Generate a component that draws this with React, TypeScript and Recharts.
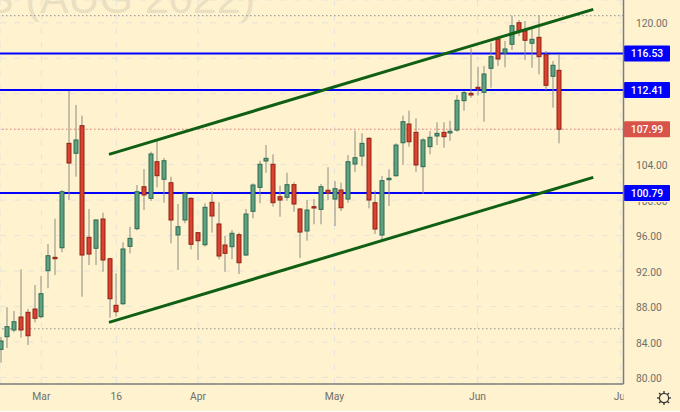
import React from 'react';
import { ComposedChart, Bar, XAxis, YAxis, CartesianGrid, ReferenceLine } from 'recharts';

// daily candles, index 0 is the partly hidden one at the left edge
const opens = [
  83.18, 84.6, 85.36, 86.82, 87.35, 87.72, 86.86, 92.04, 93.55, 94.63, 106.4, 105.28, 108.39, 95.81, 94.57, 97.87, 93.39,
  88.14, 88.32, 94.79, 96.78, 101.51, 100.2, 104.33, 102.35, 101.96, 96.07, 97.76, 100.2, 96.33, 94.97, 99.75, 97.31, 94.94,
  94.75, 96.1, 93.81, 98.74, 101.44, 104.41, 104.04, 100.38, 100.32, 101.74, 99.0, 96.52, 99.26, 98.96, 101.11, 100.12,
  101.14, 100.12, 104.07, 104.97, 106.97, 99.71, 96.07, 102.3, 102.75, 106.47, 108.58, 107.64, 103.77, 106.02, 107.23,
  107.64, 107.57, 107.9, 111.21, 112.04, 112.72, 112.15, 114.86, 118.16, 116.58, 117.57, 120.0, 119.07, 117.68, 118.35,
  116.39, 113.96, 114.63,
];
const highs = [
  84.57, 87.92, 87.5, 92.2, 87.72, 90.43, 91.44, 95.05, 97.9, 101.14, 112.3, 110.72, 109.52, 99.0, 97.84, 98.58, 93.5,
  91.75, 95.24, 97.0, 101.7, 103.51, 105.46, 106.66, 104.75, 102.64, 99.56, 100.95, 100.3, 96.4, 99.64, 101.03, 99.75, 95.95,
  96.63, 96.33, 99.0, 101.89, 104.44, 106.21, 105.16, 101.62, 103.09, 102.01, 99.11, 100.01, 100.12, 101.82, 103.7, 102.15,
  101.96, 105.09, 107.83, 107.53, 107.08, 101.06, 102.72, 103.47, 106.4, 109.52, 110.08, 109.22, 106.97, 107.79, 108.77,
  108.77, 108.95, 111.85, 112.3, 117.11, 115.04, 115.12, 117.75, 118.42, 117.94, 120.79, 120.31, 120.19, 119.37, 120.79,
  116.81, 115.68, 116.44,
];
const lows = [
  81.67, 83.33, 85.1, 84.49, 83.66, 86.22, 86.68, 90.06, 91.56, 94.12, 100.01, 102.64, 89.11, 92.68, 92.68, 91.93, 86.74,
  86.86, 88.17, 94.0, 96.6, 98.88, 99.9, 101.44, 99.71, 95.13, 92.12, 97.39, 94.45, 93.25, 94.75, 96.33, 93.33, 91.93,
  93.33, 91.67, 93.7, 97.95, 99.64, 103.09, 99.26, 98.13, 99.93, 98.69, 93.47, 95.42, 97.27, 97.27, 100.01, 97.08,
  98.77, 99.71, 103.17, 103.85, 99.08, 96.18, 95.5, 99.34, 102.64, 103.96, 106.02, 103.2, 100.69, 105.16, 106.21,
  105.91, 106.7, 107.71, 110.08, 111.55, 111.79, 108.84, 112.67, 115.12, 114.97, 116.92, 118.5, 115.8, 114.93, 114.18,
  112.41, 110.42, 106.4,
];
const closes = [
  84.12, 85.73, 86.29, 85.36, 84.71, 86.68, 89.45, 93.73, 93.39, 100.95, 104.18, 106.78, 93.81, 93.92, 97.76, 93.25, 88.88,
  87.42, 94.49, 95.69, 100.95, 100.58, 105.2, 102.75, 104.44, 97.76, 97.0, 100.77, 95.02, 95.42, 99.19, 98.21, 93.7, 94.0,
  96.26, 92.94, 98.43, 101.7, 104.04, 104.71, 99.71, 100.01, 101.74, 99.56, 96.4, 98.88, 99.11, 101.51, 100.8, 101.29,
  99.14, 104.33, 104.78, 106.4, 100.01, 96.74, 102.19, 102.46, 106.21, 108.84, 106.58, 103.96, 106.78, 107.08, 107.53,
  107.15, 107.76, 111.25, 112.11, 111.85, 112.53, 114.22, 116.17, 115.91, 117.04, 119.66, 118.99, 118.02, 118.13, 116.17,
  112.94, 115.2, 107.99,
];

const priceTicks = [80, 84, 88, 92, 96, 100, 104, 108, 112, 116, 120];
// these ones sit completely behind a price tag, only their grid line shows
const hiddenPriceTicks = [108, 112, 116];
const timeTicks = [6, 17, 29, 49, 70, 91];
const timeLabels = ['Mar', '16', 'Apr', 'May', 'Jun', 'Jul'];

const blueLevels = [116.53, 112.41, 100.79];
const lastPrice = 107.99;
const dottedLevels = [120.79, 85.5];

// trend channel, [candle index, price] at both ends
const upperChannel = [
  { x: 15.92, y: 105.16 },
  { x: 86.98, y: 121.51 },
];
const lowerChannel = [
  { x: 15.92, y: 86.22 },
  { x: 86.98, y: 102.57 },
];

const candles = opens.map((open, i) => ({
  i,
  open,
  high: highs[i],
  low: lows[i],
  close: closes[i],
}));

const BG = '#fff2cf';
const FONT = 'Roboto, sans-serif';
const PLOT_WIDTH = 623.5;

function Candle(props: any) {
  const { x, y, width, height, payload } = props;
  const top = Math.min(y, y + height);
  const pxPerUnit = Math.abs(height) / (payload.high - payload.low);
  const cx = Math.round(x + width / 2);
  const up = payload.close >= payload.open;
  const bodyTop = top + (payload.high - Math.max(payload.open, payload.close)) * pxPerUnit;
  const bodyHeight = Math.max(Math.abs(payload.open - payload.close) * pxPerUnit, 1);

  return (
    <g>
      <line x1={cx} x2={cx} y1={top} y2={top + Math.abs(height)} stroke="#8c8c84" strokeWidth={1} />
      <rect
        x={cx - 2}
        y={bodyTop}
        width={4}
        height={bodyHeight}
        fill={up ? '#5fa181' : '#d9432f'}
        stroke={up ? '#2c6a52' : '#8f2216'}
        strokeWidth={1}
      />
    </g>
  );
}

// price tag that sits on the right axis
function PriceTag({ viewBox, text, fill }: any) {
  const y = viewBox.y;
  return (
    <g>
      <rect x={PLOT_WIDTH + 0.5} y={y - 8} width={46} height={16} rx={1} fill={fill} />
      <text
        x={PLOT_WIDTH + 23.5}
        y={y + 0.3}
        textAnchor="middle"
        dominantBaseline="central"
        fill="#ffffff"
        fontFamily={FONT}
        fontWeight={500}
        fontSize={10.4}
      >
        {text}
      </text>
    </g>
  );
}

function PriceTick({ x, y, payload }: any) {
  if (hiddenPriceTicks.includes(payload.value)) return null;
  // 100.00 only peeks out from under the 100.79 tag
  const peeks = payload.value === 100;
  return (
    <g>
      {peeks && (
        <clipPath id="price-tick-100">
          <rect x={620} y={202} width={60} height={10} />
        </clipPath>
      )}
      <text
        x={x + 4.5}
        y={y + 4.5}
        fill="#6f6f6a"
        fontFamily={FONT}
        fontSize={10.3}
        clipPath={peeks ? 'url(#price-tick-100)' : undefined}
      >
        {payload.value.toFixed(2)}
      </text>
    </g>
  );
}

function TimeTick({ x, y, payload }: any) {
  return (
    <g>
      <clipPath id={`time-tick-${payload.value}`}>
        <rect x={0} y={380} width={PLOT_WIDTH} height={30} />
      </clipPath>
      <text
        x={x}
        y={y}
        dy={8}
        textAnchor="middle"
        fill="#6f6f6a"
        fontFamily={FONT}
        fontSize={10.3}
        clipPath={`url(#time-tick-${payload.value})`}
      >
        {timeLabels[timeTicks.indexOf(payload.value)]}
      </text>
    </g>
  );
}

function Gear() {
  return (
    <svg
      width={16}
      height={16}
      viewBox="0 0 16 16"
      style={{ position: 'absolute', left: 656, top: 390 }}
    >
      <circle cx={8} cy={8} r={4.6} fill="none" stroke="#333" strokeWidth={1.2} />
      {[0, 45, 90, 135, 180, 225, 270, 315].map((a) => (
        <line
          key={a}
          x1={8}
          y1={1}
          x2={8}
          y2={3.4}
          stroke="#333"
          strokeWidth={1.3}
          transform={`rotate(${a} 8 8)`}
        />
      ))}
    </svg>
  );
}

export default function App() {
  return (
    <div style={{ position: 'absolute', left: 0, top: 0, width: 680, height: 411, background: BG, overflow: 'hidden' }}>
      <div
        style={{
          position: 'absolute',
          right: 680 - 255,
          top: -32,
          fontFamily: 'Liberation Sans, sans-serif',
          fontSize: 43,
          lineHeight: '60px',
          color: '#eadfc0',
          whiteSpace: 'nowrap',
        }}
      >
        S (AUG 2022)
      </div>
      <ComposedChart
        width={680}
        height={411}
        data={candles}
        margin={{ top: 0, right: 0, bottom: 0, left: 0 }}
        style={{ position: 'absolute', left: 0, top: 0 }}
      >
        <CartesianGrid stroke="#e6e3da" strokeDasharray="6 8" />
        <XAxis
          dataKey="i"
          type="number"
          domain={[-0.073, 91.42]}
          allowDataOverflow
          ticks={timeTicks}
          interval={0}
          height={27}
          axisLine={{ stroke: '#7d7d78', strokeWidth: 1.5 }}
          tickLine={false}
          tick={<TimeTick />}
        />
        <YAxis
          orientation="right"
          type="number"
          domain={[79.27, 122.56]}
          allowDataOverflow
          ticks={priceTicks}
          interval={0}
          width={56.5}
          axisLine={{ stroke: '#7d7d78', strokeWidth: 1.5 }}
          tickLine={false}
          tick={<PriceTick />}
        />
        {dottedLevels.map((v) => (
          <ReferenceLine key={v} y={v} stroke="#8f8f88" strokeDasharray="1.5 2.5" zIndex={100} />
        ))}
        <ReferenceLine
          y={lastPrice}
          stroke="#e2806e"
          strokeDasharray="1.5 2.5"
          zIndex={100}
          label={<PriceTag text={lastPrice.toFixed(2)} fill="#d9534a" />}
        />
        {blueLevels.map((v) => (
          <ReferenceLine
            key={v}
            y={v}
            stroke="#0000ff"
            strokeWidth={2}
            zIndex={100}
            label={<PriceTag text={v.toFixed(2)} fill="#0000ff" />}
          />
        ))}
        <Bar dataKey={(d: any) => [d.low, d.high]} barSize={5} shape={<Candle />} isAnimationActive={false} />
        <ReferenceLine segment={upperChannel} stroke="#0f5f14" strokeWidth={3} />
        <ReferenceLine segment={lowerChannel} stroke="#0f5f14" strokeWidth={3} />
      </ComposedChart>
      <Gear />
    </div>
  );
}
